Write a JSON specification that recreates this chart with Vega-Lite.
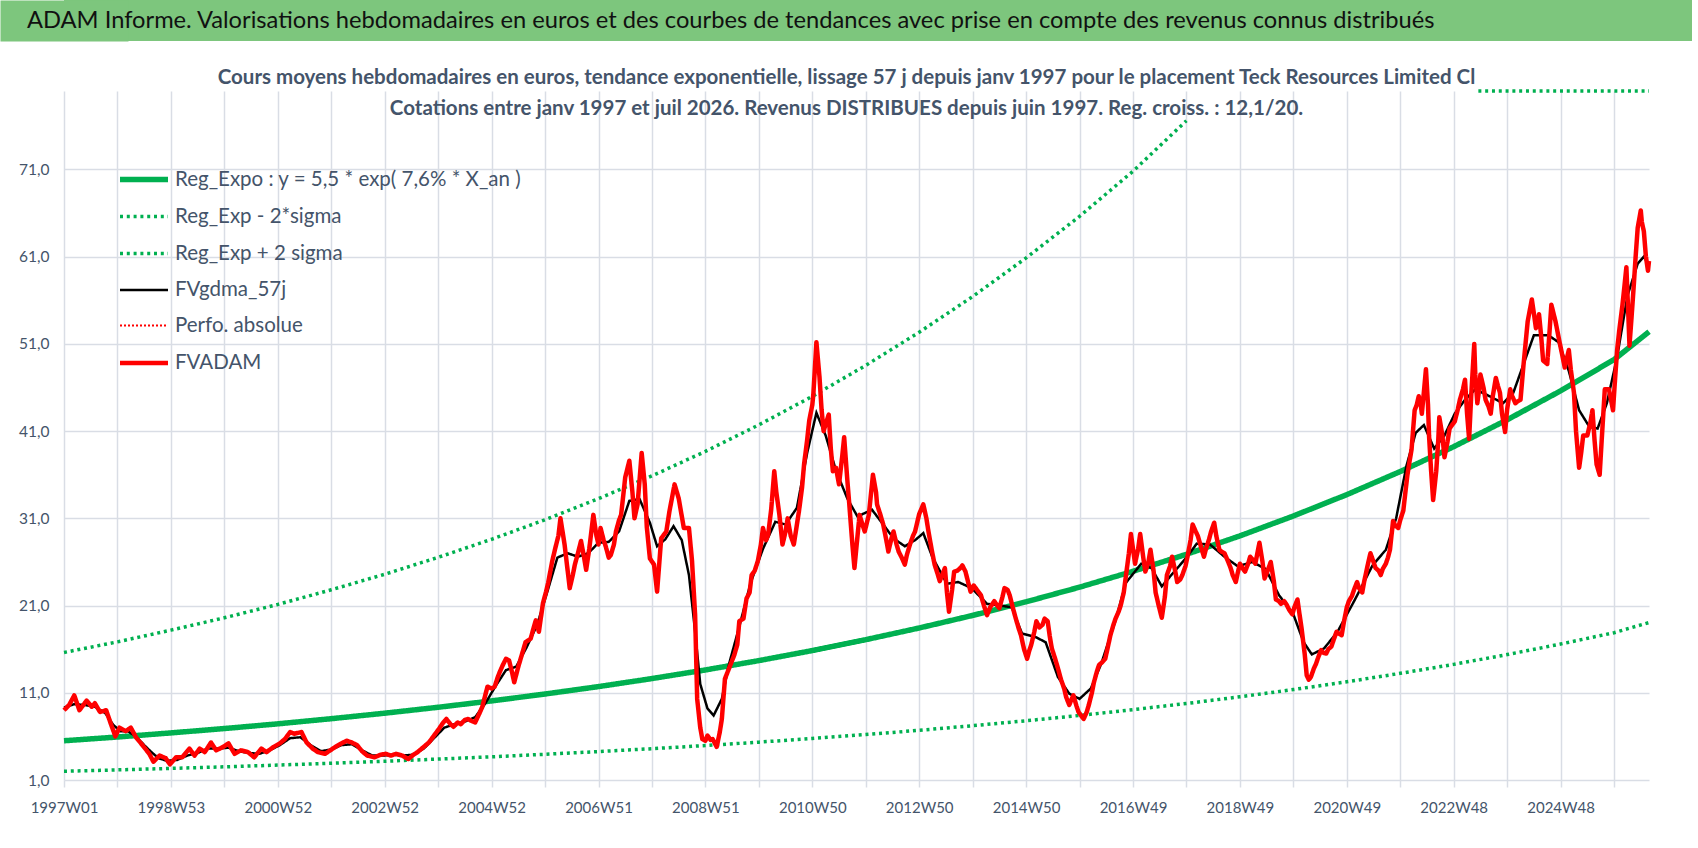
{
  "$schema": "https://vega.github.io/schema/vega-lite/v6.json",
  "background": "white",
  "padding": 0,
  "columns": 1,
  "align": "none",
  "spacing": 26,
  "config": {"view": {"stroke": null}, "font": "Lato"},
  "concat": [
    {
      "width": 1628,
      "height": 41,
      "view": {"fill": "#7dc67d", "stroke": null},
      "title": {"text": "ADAM Informe. Valorisations hebdomadaires en euros et des courbes de tendances avec prise en compte des revenus connus distribués", "anchor": "start", "frame": "group", "offset": -33, "dx": -37, "font": "Lato", "fontSize": 23.7, "fontWeight": "normal", "color": "#111111"},
      "data": {"values": []},
      "mark": {"type": "point", "opacity": 0},
      "encoding": {
        "y": {"field": "a", "type": "quantitative", "scale": {"domain": [0, 1]},
          "axis": {"title": null, "labels": false, "ticks": false, "grid": false, "domain": true, "domainColor": "#7dc67d", "domainWidth": 128, "domainCap": "butt", "minExtent": 64, "maxExtent": 64}}
      }
    },
    {
      "width": 1585,
      "height": 689,
      "title": {
        "text": ["Cours moyens hebdomadaires en euros, tendance exponentielle, lissage 57 j depuis janv 1997 pour le placement Teck Resources Limited Cl", "Cotations entre janv 1997 et juil 2026. Revenus DISTRIBUES depuis juin 1997. Reg. croiss. : 12,1/20."],
        "anchor": "middle", "frame": "group", "offset": -35, "dx": -10,
        "font": "Lato", "fontSize": 20.5, "fontWeight": "bold", "color": "#44546a", "lineHeight": 31
      },
      "data": {"values": [
        {"s":"reg","w":0,"v":5.5},{"s":"reg","w":52,"v":5.93},{"s":"reg","w":104,"v":6.4},{"s":"reg","w":156,"v":6.9},{"s":"reg","w":208,"v":7.44},{"s":"reg","w":260,"v":8.03},{"s":"reg","w":312,"v":8.66},{"s":"reg","w":364,"v":9.34},{"s":"reg","w":416,"v":10.07},{"s":"reg","w":468,"v":10.86},{"s":"reg","w":520,"v":11.71},{"s":"reg","w":572,"v":12.63},{"s":"reg","w":624,"v":13.62},{"s":"reg","w":676,"v":14.69},{"s":"reg","w":728,"v":15.84},{"s":"reg","w":780,"v":17.09},{"s":"reg","w":832,"v":18.43},{"s":"reg","w":884,"v":19.87},{"s":"reg","w":936,"v":21.43},{"s":"reg","w":988,"v":23.11},{"s":"reg","w":1040,"v":24.93},{"s":"reg","w":1092,"v":26.88},{"s":"reg","w":1144,"v":28.99},{"s":"reg","w":1196,"v":31.27},{"s":"reg","w":1248,"v":33.72},{"s":"reg","w":1300,"v":36.37},{"s":"reg","w":1352,"v":39.22},{"s":"reg","w":1404,"v":42.3},{"s":"reg","w":1456,"v":45.62},{"s":"reg","w":1508,"v":49.2},{"s":"reg","w":1542,"v":52.4},
        {"s":"lo","w":0,"v":2.0},{"s":"lo","w":52,"v":2.16},{"s":"lo","w":104,"v":2.33},{"s":"lo","w":156,"v":2.51},{"s":"lo","w":208,"v":2.71},{"s":"lo","w":260,"v":2.92},{"s":"lo","w":312,"v":3.15},{"s":"lo","w":364,"v":3.4},{"s":"lo","w":416,"v":3.66},{"s":"lo","w":468,"v":3.95},{"s":"lo","w":520,"v":4.26},{"s":"lo","w":572,"v":4.59},{"s":"lo","w":624,"v":4.95},{"s":"lo","w":676,"v":5.34},{"s":"lo","w":728,"v":5.76},{"s":"lo","w":780,"v":6.21},{"s":"lo","w":832,"v":6.7},{"s":"lo","w":884,"v":7.23},{"s":"lo","w":936,"v":7.79},{"s":"lo","w":988,"v":8.4},{"s":"lo","w":1040,"v":9.07},{"s":"lo","w":1092,"v":9.77},{"s":"lo","w":1144,"v":10.54},{"s":"lo","w":1196,"v":11.37},{"s":"lo","w":1248,"v":12.26},{"s":"lo","w":1300,"v":13.23},{"s":"lo","w":1352,"v":14.26},{"s":"lo","w":1404,"v":15.38},{"s":"lo","w":1456,"v":16.59},{"s":"lo","w":1508,"v":17.89},{"s":"lo","w":1542,"v":19.05},
        {"s":"up","g":"a","w":0,"v":15.62},{"s":"up","g":"a","w":52,"v":16.84},{"s":"up","g":"a","w":104,"v":18.18},{"s":"up","g":"a","w":156,"v":19.6},{"s":"up","g":"a","w":208,"v":21.13},{"s":"up","g":"a","w":260,"v":22.81},{"s":"up","g":"a","w":312,"v":24.59},{"s":"up","g":"a","w":364,"v":26.53},{"s":"up","g":"a","w":416,"v":28.6},{"s":"up","g":"a","w":468,"v":30.84},{"s":"up","g":"a","w":520,"v":33.26},{"s":"up","g":"a","w":572,"v":35.87},{"s":"up","g":"a","w":624,"v":38.68},{"s":"up","g":"a","w":676,"v":41.72},{"s":"up","g":"a","w":728,"v":44.99},{"s":"up","g":"a","w":780,"v":48.54},{"s":"up","g":"a","w":832,"v":52.34},{"s":"up","g":"a","w":884,"v":56.43},{"s":"up","g":"a","w":936,"v":60.86},{"s":"up","g":"a","w":988,"v":65.63},{"s":"up","g":"a","w":1040,"v":70.8},{"s":"up","g":"a","w":1092,"v":76.6},
        {"s":"up","g":"b","w":1376,"v":116.7},{"s":"up","g":"b","w":1404,"v":120.1},{"s":"up","g":"b","w":1456,"v":129.6},{"s":"up","g":"b","w":1508,"v":139.7},{"s":"up","g":"b","w":1542,"v":148.8},
        {"s":"gdma","w":0,"v":9.3},{"s":"gdma","w":10,"v":9.7},{"s":"gdma","w":20,"v":9.6},{"s":"gdma","w":30,"v":9.4},{"s":"gdma","w":40,"v":8.7},{"s":"gdma","w":48,"v":7.3},{"s":"gdma","w":55,"v":6.6},{"s":"gdma","w":62,"v":6.6},{"s":"gdma","w":70,"v":6.0},{"s":"gdma","w":78,"v":5.0},{"s":"gdma","w":85,"v":4.2},{"s":"gdma","w":92,"v":3.5},{"s":"gdma","w":100,"v":3.2},{"s":"gdma","w":110,"v":3.3},{"s":"gdma","w":120,"v":3.8},{"s":"gdma","w":130,"v":4.1},{"s":"gdma","w":140,"v":4.6},{"s":"gdma","w":150,"v":4.6},{"s":"gdma","w":160,"v":4.7},{"s":"gdma","w":170,"v":4.3},{"s":"gdma","w":180,"v":4.1},{"s":"gdma","w":190,"v":4.0},{"s":"gdma","w":200,"v":4.4},{"s":"gdma","w":210,"v":5.0},{"s":"gdma","w":220,"v":5.8},{"s":"gdma","w":230,"v":5.9},{"s":"gdma","w":240,"v":5.0},{"s":"gdma","w":250,"v":4.3},{"s":"gdma","w":260,"v":4.5},{"s":"gdma","w":270,"v":5.0},{"s":"gdma","w":280,"v":5.1},{"s":"gdma","w":290,"v":4.4},{"s":"gdma","w":300,"v":3.8},{"s":"gdma","w":310,"v":3.8},{"s":"gdma","w":320,"v":3.9},{"s":"gdma","w":330,"v":3.8},{"s":"gdma","w":340,"v":3.9},{"s":"gdma","w":350,"v":4.6},{"s":"gdma","w":360,"v":5.8},{"s":"gdma","w":370,"v":7.0},{"s":"gdma","w":380,"v":7.4},{"s":"gdma","w":390,"v":7.7},{"s":"gdma","w":400,"v":8.2},{"s":"gdma","w":410,"v":9.8},{"s":"gdma","w":420,"v":11.8},{"s":"gdma","w":430,"v":13.6},{"s":"gdma","w":440,"v":14.0},{"s":"gdma","w":450,"v":16.2},{"s":"gdma","w":460,"v":18.7},{"s":"gdma","w":470,"v":22.5},{"s":"gdma","w":480,"v":26.5},{"s":"gdma","w":490,"v":27.0},{"s":"gdma","w":500,"v":26.6},{"s":"gdma","w":510,"v":27.0},{"s":"gdma","w":520,"v":28.2},{"s":"gdma","w":530,"v":28.3},{"s":"gdma","w":540,"v":29.5},{"s":"gdma","w":550,"v":33.0},{"s":"gdma","w":560,"v":33.2},{"s":"gdma","w":570,"v":30.5},{"s":"gdma","w":577,"v":27.8},{"s":"gdma","w":585,"v":28.6},{"s":"gdma","w":593,"v":30.1},{"s":"gdma","w":601,"v":28.5},{"s":"gdma","w":608,"v":24.5},{"s":"gdma","w":614,"v":18.0},{"s":"gdma","w":619,"v":12.0},{"s":"gdma","w":626,"v":9.2},{"s":"gdma","w":632,"v":8.4},{"s":"gdma","w":640,"v":10.3},{"s":"gdma","w":647,"v":14.3},{"s":"gdma","w":657,"v":18.6},{"s":"gdma","w":668,"v":23.6},{"s":"gdma","w":680,"v":27.5},{"s":"gdma","w":692,"v":30.6},{"s":"gdma","w":702,"v":30.3},{"s":"gdma","w":713,"v":32.2},{"s":"gdma","w":723,"v":38.5},{"s":"gdma","w":732,"v":43.1},{"s":"gdma","w":741,"v":40.5},{"s":"gdma","w":751,"v":36.5},{"s":"gdma","w":762,"v":33.3},{"s":"gdma","w":772,"v":31.2},{"s":"gdma","w":786,"v":32.0},{"s":"gdma","w":797,"v":30.3},{"s":"gdma","w":807,"v":28.7},{"s":"gdma","w":818,"v":27.8},{"s":"gdma","w":828,"v":28.5},{"s":"gdma","w":836,"v":29.3},{"s":"gdma","w":845,"v":26.5},{"s":"gdma","w":859,"v":23.5},{"s":"gdma","w":870,"v":23.7},{"s":"gdma","w":883,"v":23.0},{"s":"gdma","w":898,"v":21.2},{"s":"gdma","w":911,"v":21.0},{"s":"gdma","w":922,"v":20.8},{"s":"gdma","w":932,"v":17.8},{"s":"gdma","w":945,"v":17.4},{"s":"gdma","w":955,"v":16.8},{"s":"gdma","w":967,"v":12.8},{"s":"gdma","w":978,"v":10.9},{"s":"gdma","w":988,"v":10.3},{"s":"gdma","w":999,"v":11.5},{"s":"gdma","w":1009,"v":14.3},{"s":"gdma","w":1023,"v":19.3},{"s":"gdma","w":1033,"v":23.6},{"s":"gdma","w":1048,"v":25.8},{"s":"gdma","w":1058,"v":25.3},{"s":"gdma","w":1068,"v":23.2},{"s":"gdma","w":1078,"v":24.6},{"s":"gdma","w":1092,"v":26.5},{"s":"gdma","w":1102,"v":28.1},{"s":"gdma","w":1115,"v":28.0},{"s":"gdma","w":1129,"v":26.6},{"s":"gdma","w":1142,"v":25.5},{"s":"gdma","w":1156,"v":26.0},{"s":"gdma","w":1169,"v":25.2},{"s":"gdma","w":1182,"v":22.2},{"s":"gdma","w":1196,"v":20.0},{"s":"gdma","w":1206,"v":16.8},{"s":"gdma","w":1214,"v":15.4},{"s":"gdma","w":1226,"v":16.1},{"s":"gdma","w":1239,"v":18.0},{"s":"gdma","w":1256,"v":21.7},{"s":"gdma","w":1273,"v":25.6},{"s":"gdma","w":1286,"v":27.4},{"s":"gdma","w":1296,"v":31.0},{"s":"gdma","w":1306,"v":37.0},{"s":"gdma","w":1315,"v":40.8},{"s":"gdma","w":1323,"v":41.7},{"s":"gdma","w":1333,"v":39.0},{"s":"gdma","w":1343,"v":40.5},{"s":"gdma","w":1353,"v":43.0},{"s":"gdma","w":1363,"v":44.6},{"s":"gdma","w":1373,"v":45.8},{"s":"gdma","w":1387,"v":45.0},{"s":"gdma","w":1400,"v":44.2},{"s":"gdma","w":1410,"v":45.4},{"s":"gdma","w":1420,"v":48.7},{"s":"gdma","w":1430,"v":52.0},{"s":"gdma","w":1444,"v":52.0},{"s":"gdma","w":1454,"v":51.2},{"s":"gdma","w":1464,"v":47.9},{"s":"gdma","w":1474,"v":43.4},{"s":"gdma","w":1484,"v":41.5},{"s":"gdma","w":1492,"v":41.3},{"s":"gdma","w":1501,"v":44.2},{"s":"gdma","w":1511,"v":49.5},{"s":"gdma","w":1521,"v":56.5},{"s":"gdma","w":1531,"v":60.2},{"s":"gdma","w":1537,"v":61.0},{"s":"gdma","w":1542,"v":60.0},
        {"s":"adam","w":0,"v":9.0},{"s":"adam","w":5,"v":9.6},{"s":"adam","w":10,"v":10.7},{"s":"adam","w":15,"v":9.0},{"s":"adam","w":22,"v":10.1},{"s":"adam","w":27,"v":9.4},{"s":"adam","w":30,"v":9.8},{"s":"adam","w":35,"v":8.8},{"s":"adam","w":41,"v":9.0},{"s":"adam","w":46,"v":7.3},{"s":"adam","w":50,"v":6.0},{"s":"adam","w":54,"v":7.0},{"s":"adam","w":60,"v":6.6},{"s":"adam","w":65,"v":7.0},{"s":"adam","w":70,"v":5.9},{"s":"adam","w":77,"v":4.9},{"s":"adam","w":83,"v":4.0},{"s":"adam","w":87,"v":3.1},{"s":"adam","w":93,"v":3.8},{"s":"adam","w":99,"v":3.5},{"s":"adam","w":103,"v":2.8},{"s":"adam","w":109,"v":3.6},{"s":"adam","w":115,"v":3.6},{"s":"adam","w":122,"v":4.6},{"s":"adam","w":127,"v":3.8},{"s":"adam","w":132,"v":4.6},{"s":"adam","w":137,"v":4.2},{"s":"adam","w":143,"v":5.3},{"s":"adam","w":148,"v":4.4},{"s":"adam","w":155,"v":4.8},{"s":"adam","w":160,"v":5.2},{"s":"adam","w":166,"v":4.0},{"s":"adam","w":172,"v":4.4},{"s":"adam","w":179,"v":4.2},{"s":"adam","w":185,"v":3.6},{"s":"adam","w":192,"v":4.6},{"s":"adam","w":197,"v":4.2},{"s":"adam","w":204,"v":4.8},{"s":"adam","w":210,"v":5.2},{"s":"adam","w":215,"v":5.7},{"s":"adam","w":220,"v":6.5},{"s":"adam","w":224,"v":6.3},{"s":"adam","w":231,"v":6.5},{"s":"adam","w":236,"v":5.3},{"s":"adam","w":242,"v":4.6},{"s":"adam","w":247,"v":4.2},{"s":"adam","w":254,"v":4.0},{"s":"adam","w":259,"v":4.4},{"s":"adam","w":264,"v":4.8},{"s":"adam","w":270,"v":5.2},{"s":"adam","w":275,"v":5.5},{"s":"adam","w":280,"v":5.3},{"s":"adam","w":285,"v":5.0},{"s":"adam","w":290,"v":4.3},{"s":"adam","w":295,"v":3.8},{"s":"adam","w":302,"v":3.6},{"s":"adam","w":308,"v":3.9},{"s":"adam","w":313,"v":4.0},{"s":"adam","w":318,"v":3.8},{"s":"adam","w":323,"v":4.0},{"s":"adam","w":329,"v":3.8},{"s":"adam","w":335,"v":3.4},{"s":"adam","w":340,"v":3.9},{"s":"adam","w":344,"v":4.2},{"s":"adam","w":350,"v":4.8},{"s":"adam","w":355,"v":5.3},{"s":"adam","w":360,"v":6.1},{"s":"adam","w":365,"v":6.9},{"s":"adam","w":369,"v":7.6},{"s":"adam","w":372,"v":8.0},{"s":"adam","w":376,"v":7.4},{"s":"adam","w":379,"v":7.1},{"s":"adam","w":383,"v":7.6},{"s":"adam","w":386,"v":7.4},{"s":"adam","w":390,"v":7.9},{"s":"adam","w":393,"v":8.0},{"s":"adam","w":396,"v":7.8},{"s":"adam","w":400,"v":7.6},{"s":"adam","w":404,"v":8.6},{"s":"adam","w":407,"v":9.4},{"s":"adam","w":410,"v":10.8},{"s":"adam","w":412,"v":11.7},{"s":"adam","w":416,"v":11.5},{"s":"adam","w":419,"v":11.7},{"s":"adam","w":422,"v":12.8},{"s":"adam","w":424,"v":13.4},{"s":"adam","w":427,"v":14.2},{"s":"adam","w":430,"v":14.9},{"s":"adam","w":433,"v":14.7},{"s":"adam","w":436,"v":13.3},{"s":"adam","w":438,"v":12.2},{"s":"adam","w":442,"v":14.0},{"s":"adam","w":445,"v":15.2},{"s":"adam","w":449,"v":16.8},{"s":"adam","w":454,"v":17.2},{"s":"adam","w":457,"v":18.5},{"s":"adam","w":459,"v":19.3},{"s":"adam","w":462,"v":18.0},{"s":"adam","w":466,"v":21.3},{"s":"adam","w":469,"v":22.6},{"s":"adam","w":471,"v":23.6},{"s":"adam","w":475,"v":26.1},{"s":"adam","w":478,"v":27.6},{"s":"adam","w":481,"v":29.0},{"s":"adam","w":483,"v":31.0},{"s":"adam","w":487,"v":28.0},{"s":"adam","w":490,"v":25.0},{"s":"adam","w":492,"v":23.0},{"s":"adam","w":495,"v":24.5},{"s":"adam","w":497,"v":25.7},{"s":"adam","w":500,"v":27.0},{"s":"adam","w":503,"v":28.4},{"s":"adam","w":506,"v":26.5},{"s":"adam","w":508,"v":25.1},{"s":"adam","w":511,"v":27.5},{"s":"adam","w":515,"v":31.4},{"s":"adam","w":518,"v":29.0},{"s":"adam","w":520,"v":28.0},{"s":"adam","w":522,"v":29.9},{"s":"adam","w":525,"v":28.5},{"s":"adam","w":527,"v":27.8},{"s":"adam","w":530,"v":26.5},{"s":"adam","w":532,"v":26.8},{"s":"adam","w":535,"v":28.0},{"s":"adam","w":537,"v":29.5},{"s":"adam","w":540,"v":30.8},{"s":"adam","w":542,"v":31.4},{"s":"adam","w":546,"v":35.7},{"s":"adam","w":550,"v":37.6},{"s":"adam","w":553,"v":34.0},{"s":"adam","w":555,"v":31.0},{"s":"adam","w":558,"v":32.6},{"s":"adam","w":560,"v":35.5},{"s":"adam","w":562,"v":38.5},{"s":"adam","w":565,"v":34.9},{"s":"adam","w":567,"v":30.0},{"s":"adam","w":570,"v":26.4},{"s":"adam","w":574,"v":25.7},{"s":"adam","w":577,"v":22.6},{"s":"adam","w":581,"v":28.7},{"s":"adam","w":586,"v":29.5},{"s":"adam","w":589,"v":31.8},{"s":"adam","w":594,"v":34.9},{"s":"adam","w":598,"v":33.3},{"s":"adam","w":603,"v":29.9},{"s":"adam","w":608,"v":29.9},{"s":"adam","w":611,"v":26.1},{"s":"adam","w":614,"v":19.9},{"s":"adam","w":616,"v":10.3},{"s":"adam","w":619,"v":7.0},{"s":"adam","w":621,"v":5.7},{"s":"adam","w":624,"v":5.5},{"s":"adam","w":626,"v":6.1},{"s":"adam","w":629,"v":5.6},{"s":"adam","w":631,"v":5.7},{"s":"adam","w":635,"v":4.8},{"s":"adam","w":638,"v":6.5},{"s":"adam","w":640,"v":8.0},{"s":"adam","w":643,"v":12.6},{"s":"adam","w":647,"v":13.8},{"s":"adam","w":652,"v":15.3},{"s":"adam","w":655,"v":16.5},{"s":"adam","w":657,"v":19.2},{"s":"adam","w":661,"v":19.5},{"s":"adam","w":664,"v":21.8},{"s":"adam","w":667,"v":22.5},{"s":"adam","w":669,"v":24.5},{"s":"adam","w":672,"v":25.0},{"s":"adam","w":675,"v":26.1},{"s":"adam","w":678,"v":28.0},{"s":"adam","w":680,"v":29.9},{"s":"adam","w":683,"v":28.5},{"s":"adam","w":685,"v":29.1},{"s":"adam","w":688,"v":32.0},{"s":"adam","w":691,"v":36.4},{"s":"adam","w":693,"v":34.0},{"s":"adam","w":696,"v":31.4},{"s":"adam","w":699,"v":28.0},{"s":"adam","w":702,"v":29.5},{"s":"adam","w":704,"v":31.0},{"s":"adam","w":707,"v":29.0},{"s":"adam","w":710,"v":28.0},{"s":"adam","w":712,"v":29.5},{"s":"adam","w":715,"v":31.8},{"s":"adam","w":718,"v":34.5},{"s":"adam","w":720,"v":37.2},{"s":"adam","w":723,"v":40.0},{"s":"adam","w":725,"v":42.2},{"s":"adam","w":728,"v":44.0},{"s":"adam","w":729,"v":45.2},{"s":"adam","w":732,"v":51.2},{"s":"adam","w":735,"v":47.2},{"s":"adam","w":737,"v":43.5},{"s":"adam","w":739,"v":41.0},{"s":"adam","w":741,"v":41.8},{"s":"adam","w":744,"v":42.9},{"s":"adam","w":746,"v":39.0},{"s":"adam","w":748,"v":36.4},{"s":"adam","w":751,"v":36.8},{"s":"adam","w":754,"v":34.9},{"s":"adam","w":757,"v":38.0},{"s":"adam","w":759,"v":40.3},{"s":"adam","w":762,"v":35.5},{"s":"adam","w":764,"v":32.6},{"s":"adam","w":767,"v":28.0},{"s":"adam","w":769,"v":25.3},{"s":"adam","w":772,"v":29.0},{"s":"adam","w":774,"v":31.4},{"s":"adam","w":777,"v":30.2},{"s":"adam","w":779,"v":29.5},{"s":"adam","w":783,"v":31.4},{"s":"adam","w":787,"v":36.0},{"s":"adam","w":790,"v":34.0},{"s":"adam","w":791,"v":32.6},{"s":"adam","w":794,"v":31.5},{"s":"adam","w":797,"v":30.3},{"s":"adam","w":800,"v":28.5},{"s":"adam","w":802,"v":27.2},{"s":"adam","w":805,"v":28.7},{"s":"adam","w":807,"v":29.5},{"s":"adam","w":810,"v":28.0},{"s":"adam","w":812,"v":27.2},{"s":"adam","w":815,"v":26.5},{"s":"adam","w":818,"v":25.7},{"s":"adam","w":820,"v":26.8},{"s":"adam","w":823,"v":28.0},{"s":"adam","w":826,"v":29.0},{"s":"adam","w":828,"v":29.5},{"s":"adam","w":832,"v":31.5},{"s":"adam","w":836,"v":32.6},{"s":"adam","w":839,"v":31.0},{"s":"adam","w":841,"v":29.5},{"s":"adam","w":844,"v":27.5},{"s":"adam","w":847,"v":25.7},{"s":"adam","w":850,"v":24.6},{"s":"adam","w":852,"v":23.8},{"s":"adam","w":857,"v":25.3},{"s":"adam","w":859,"v":22.5},{"s":"adam","w":861,"v":20.3},{"s":"adam","w":864,"v":22.8},{"s":"adam","w":866,"v":24.9},{"s":"adam","w":869,"v":25.0},{"s":"adam","w":872,"v":25.3},{"s":"adam","w":874,"v":25.6},{"s":"adam","w":877,"v":24.9},{"s":"adam","w":880,"v":23.5},{"s":"adam","w":882,"v":22.6},{"s":"adam","w":885,"v":23.3},{"s":"adam","w":887,"v":23.0},{"s":"adam","w":890,"v":22.5},{"s":"adam","w":892,"v":22.2},{"s":"adam","w":895,"v":21.0},{"s":"adam","w":898,"v":19.9},{"s":"adam","w":901,"v":20.8},{"s":"adam","w":905,"v":21.5},{"s":"adam","w":908,"v":21.0},{"s":"adam","w":910,"v":20.7},{"s":"adam","w":913,"v":22.0},{"s":"adam","w":915,"v":23.0},{"s":"adam","w":918,"v":22.8},{"s":"adam","w":920,"v":22.2},{"s":"adam","w":923,"v":20.8},{"s":"adam","w":926,"v":19.5},{"s":"adam","w":929,"v":18.3},{"s":"adam","w":931,"v":17.6},{"s":"adam","w":934,"v":16.0},{"s":"adam","w":937,"v":14.9},{"s":"adam","w":939,"v":15.8},{"s":"adam","w":941,"v":16.5},{"s":"adam","w":944,"v":18.0},{"s":"adam","w":946,"v":19.2},{"s":"adam","w":949,"v":18.5},{"s":"adam","w":952,"v":18.8},{"s":"adam","w":954,"v":19.5},{"s":"adam","w":957,"v":19.2},{"s":"adam","w":959,"v":17.5},{"s":"adam","w":961,"v":16.1},{"s":"adam","w":964,"v":15.0},{"s":"adam","w":967,"v":13.8},{"s":"adam","w":970,"v":12.5},{"s":"adam","w":973,"v":11.5},{"s":"adam","w":975,"v":10.5},{"s":"adam","w":978,"v":9.6},{"s":"adam","w":980,"v":10.2},{"s":"adam","w":982,"v":10.7},{"s":"adam","w":985,"v":9.5},{"s":"adam","w":987,"v":8.8},{"s":"adam","w":990,"v":8.3},{"s":"adam","w":992,"v":8.0},{"s":"adam","w":995,"v":8.8},{"s":"adam","w":997,"v":9.6},{"s":"adam","w":1000,"v":11.0},{"s":"adam","w":1002,"v":12.2},{"s":"adam","w":1005,"v":13.5},{"s":"adam","w":1007,"v":14.2},{"s":"adam","w":1010,"v":14.5},{"s":"adam","w":1013,"v":14.9},{"s":"adam","w":1016,"v":16.5},{"s":"adam","w":1018,"v":17.6},{"s":"adam","w":1021,"v":18.8},{"s":"adam","w":1023,"v":19.5},{"s":"adam","w":1026,"v":20.3},{"s":"adam","w":1028,"v":21.0},{"s":"adam","w":1031,"v":22.5},{"s":"adam","w":1033,"v":24.3},{"s":"adam","w":1036,"v":27.0},{"s":"adam","w":1038,"v":29.2},{"s":"adam","w":1040,"v":27.5},{"s":"adam","w":1042,"v":25.8},{"s":"adam","w":1045,"v":27.5},{"s":"adam","w":1047,"v":29.2},{"s":"adam","w":1050,"v":26.5},{"s":"adam","w":1052,"v":24.9},{"s":"adam","w":1055,"v":26.0},{"s":"adam","w":1057,"v":27.4},{"s":"adam","w":1060,"v":25.0},{"s":"adam","w":1062,"v":22.5},{"s":"adam","w":1065,"v":21.0},{"s":"adam","w":1068,"v":19.6},{"s":"adam","w":1071,"v":22.0},{"s":"adam","w":1073,"v":24.5},{"s":"adam","w":1076,"v":25.5},{"s":"adam","w":1078,"v":26.6},{"s":"adam","w":1081,"v":25.0},{"s":"adam","w":1083,"v":23.7},{"s":"adam","w":1086,"v":24.0},{"s":"adam","w":1088,"v":24.5},{"s":"adam","w":1091,"v":25.5},{"s":"adam","w":1093,"v":26.6},{"s":"adam","w":1096,"v":28.5},{"s":"adam","w":1098,"v":30.3},{"s":"adam","w":1101,"v":29.5},{"s":"adam","w":1103,"v":29.0},{"s":"adam","w":1106,"v":27.8},{"s":"adam","w":1109,"v":26.6},{"s":"adam","w":1111,"v":27.5},{"s":"adam","w":1114,"v":28.6},{"s":"adam","w":1116,"v":29.5},{"s":"adam","w":1119,"v":30.5},{"s":"adam","w":1121,"v":29.0},{"s":"adam","w":1124,"v":27.4},{"s":"adam","w":1126,"v":27.2},{"s":"adam","w":1129,"v":27.0},{"s":"adam","w":1132,"v":26.2},{"s":"adam","w":1135,"v":25.3},{"s":"adam","w":1137,"v":24.5},{"s":"adam","w":1140,"v":23.7},{"s":"adam","w":1142,"v":24.8},{"s":"adam","w":1144,"v":25.8},{"s":"adam","w":1147,"v":25.2},{"s":"adam","w":1149,"v":24.9},{"s":"adam","w":1152,"v":25.8},{"s":"adam","w":1154,"v":26.6},{"s":"adam","w":1157,"v":26.2},{"s":"adam","w":1159,"v":25.8},{"s":"adam","w":1161,"v":27.0},{"s":"adam","w":1163,"v":28.2},{"s":"adam","w":1166,"v":26.0},{"s":"adam","w":1168,"v":24.1},{"s":"adam","w":1171,"v":25.0},{"s":"adam","w":1174,"v":26.0},{"s":"adam","w":1177,"v":23.8},{"s":"adam","w":1179,"v":21.7},{"s":"adam","w":1182,"v":21.5},{"s":"adam","w":1184,"v":21.2},{"s":"adam","w":1187,"v":21.5},{"s":"adam","w":1189,"v":21.2},{"s":"adam","w":1192,"v":20.5},{"s":"adam","w":1195,"v":20.0},{"s":"adam","w":1197,"v":20.8},{"s":"adam","w":1200,"v":21.7},{"s":"adam","w":1202,"v":20.0},{"s":"adam","w":1204,"v":18.4},{"s":"adam","w":1207,"v":15.5},{"s":"adam","w":1209,"v":13.0},{"s":"adam","w":1211,"v":12.5},{"s":"adam","w":1213,"v":12.8},{"s":"adam","w":1216,"v":13.8},{"s":"adam","w":1218,"v":14.3},{"s":"adam","w":1220,"v":15.0},{"s":"adam","w":1223,"v":15.9},{"s":"adam","w":1225,"v":15.6},{"s":"adam","w":1228,"v":15.5},{"s":"adam","w":1230,"v":16.0},{"s":"adam","w":1233,"v":16.3},{"s":"adam","w":1235,"v":17.0},{"s":"adam","w":1238,"v":18.0},{"s":"adam","w":1240,"v":17.8},{"s":"adam","w":1243,"v":17.6},{"s":"adam","w":1245,"v":19.0},{"s":"adam","w":1248,"v":20.8},{"s":"adam","w":1250,"v":21.5},{"s":"adam","w":1253,"v":22.1},{"s":"adam","w":1255,"v":22.8},{"s":"adam","w":1258,"v":23.7},{"s":"adam","w":1260,"v":23.0},{"s":"adam","w":1263,"v":22.5},{"s":"adam","w":1265,"v":23.8},{"s":"adam","w":1267,"v":24.9},{"s":"adam","w":1269,"v":26.0},{"s":"adam","w":1271,"v":27.0},{"s":"adam","w":1274,"v":26.0},{"s":"adam","w":1276,"v":25.3},{"s":"adam","w":1279,"v":25.0},{"s":"adam","w":1281,"v":24.5},{"s":"adam","w":1283,"v":25.2},{"s":"adam","w":1286,"v":25.8},{"s":"adam","w":1288,"v":26.5},{"s":"adam","w":1290,"v":27.4},{"s":"adam","w":1293,"v":30.7},{"s":"adam","w":1295,"v":30.2},{"s":"adam","w":1298,"v":29.9},{"s":"adam","w":1300,"v":30.8},{"s":"adam","w":1303,"v":31.9},{"s":"adam","w":1305,"v":34.0},{"s":"adam","w":1307,"v":36.0},{"s":"adam","w":1309,"v":37.5},{"s":"adam","w":1311,"v":38.9},{"s":"adam","w":1314,"v":43.4},{"s":"adam","w":1316,"v":44.0},{"s":"adam","w":1318,"v":45.0},{"s":"adam","w":1320,"v":44.0},{"s":"adam","w":1321,"v":43.0},{"s":"adam","w":1323,"v":45.5},{"s":"adam","w":1325,"v":48.1},{"s":"adam","w":1327,"v":44.0},{"s":"adam","w":1328,"v":40.5},{"s":"adam","w":1330,"v":36.5},{"s":"adam","w":1332,"v":33.1},{"s":"adam","w":1335,"v":36.4},{"s":"adam","w":1337,"v":40.0},{"s":"adam","w":1338,"v":42.6},{"s":"adam","w":1341,"v":40.5},{"s":"adam","w":1343,"v":38.0},{"s":"adam","w":1346,"v":39.8},{"s":"adam","w":1348,"v":41.3},{"s":"adam","w":1351,"v":41.8},{"s":"adam","w":1353,"v":42.1},{"s":"adam","w":1356,"v":43.5},{"s":"adam","w":1358,"v":44.6},{"s":"adam","w":1361,"v":45.8},{"s":"adam","w":1363,"v":46.9},{"s":"adam","w":1365,"v":43.0},{"s":"adam","w":1367,"v":40.1},{"s":"adam","w":1369,"v":45.0},{"s":"adam","w":1372,"v":51.0},{"s":"adam","w":1373,"v":47.5},{"s":"adam","w":1375,"v":44.2},{"s":"adam","w":1377,"v":46.0},{"s":"adam","w":1378,"v":47.5},{"s":"adam","w":1381,"v":46.0},{"s":"adam","w":1383,"v":44.6},{"s":"adam","w":1386,"v":43.8},{"s":"adam","w":1388,"v":43.0},{"s":"adam","w":1390,"v":45.0},{"s":"adam","w":1393,"v":47.1},{"s":"adam","w":1395,"v":46.2},{"s":"adam","w":1397,"v":45.4},{"s":"adam","w":1399,"v":43.0},{"s":"adam","w":1402,"v":40.9},{"s":"adam","w":1404,"v":43.5},{"s":"adam","w":1407,"v":45.8},{"s":"adam","w":1409,"v":45.0},{"s":"adam","w":1412,"v":44.2},{"s":"adam","w":1414,"v":44.4},{"s":"adam","w":1417,"v":44.6},{"s":"adam","w":1420,"v":48.7},{"s":"adam","w":1424,"v":53.6},{"s":"adam","w":1428,"v":56.1},{"s":"adam","w":1430,"v":54.5},{"s":"adam","w":1432,"v":52.8},{"s":"adam","w":1434,"v":53.6},{"s":"adam","w":1435,"v":54.4},{"s":"adam","w":1437,"v":52.0},{"s":"adam","w":1439,"v":49.1},{"s":"adam","w":1443,"v":48.7},{"s":"adam","w":1445,"v":52.0},{"s":"adam","w":1447,"v":55.5},{"s":"adam","w":1451,"v":53.6},{"s":"adam","w":1455,"v":51.2},{"s":"adam","w":1458,"v":49.5},{"s":"adam","w":1460,"v":48.3},{"s":"adam","w":1464,"v":50.3},{"s":"adam","w":1466,"v":48.0},{"s":"adam","w":1469,"v":45.4},{"s":"adam","w":1471,"v":41.0},{"s":"adam","w":1474,"v":36.8},{"s":"adam","w":1476,"v":38.5},{"s":"adam","w":1478,"v":40.5},{"s":"adam","w":1482,"v":40.5},{"s":"adam","w":1485,"v":42.0},{"s":"adam","w":1487,"v":43.4},{"s":"adam","w":1489,"v":40.0},{"s":"adam","w":1491,"v":37.2},{"s":"adam","w":1494,"v":36.0},{"s":"adam","w":1496,"v":40.0},{"s":"adam","w":1499,"v":45.8},{"s":"adam","w":1503,"v":45.8},{"s":"adam","w":1507,"v":43.4},{"s":"adam","w":1509,"v":47.0},{"s":"adam","w":1511,"v":50.3},{"s":"adam","w":1513,"v":52.5},{"s":"adam","w":1516,"v":55.3},{"s":"adam","w":1518,"v":57.5},{"s":"adam","w":1520,"v":59.8},{"s":"adam","w":1522,"v":54.0},{"s":"adam","w":1523,"v":50.8},{"s":"adam","w":1525,"v":54.0},{"s":"adam","w":1527,"v":57.4},{"s":"adam","w":1529,"v":61.0},{"s":"adam","w":1531,"v":64.3},{"s":"adam","w":1534,"v":66.3},{"s":"adam","w":1535,"v":65.0},{"s":"adam","w":1537,"v":63.9},{"s":"adam","w":1539,"v":61.0},{"s":"adam","w":1541,"v":59.4},{"s":"adam","w":1542,"v":60.5}
      ]},
      "encoding": {
        "x": {
          "field": "w", "type": "quantitative",
          "scale": {"domain": [0, 1542], "nice": false, "zero": false},
          "axis": {
            "title": null,
            "values": [0, 52, 104, 156, 208, 260, 312, 364, 416, 468, 520, 572, 624, 676, 728, 780, 832, 884, 936, 988, 1040, 1092, 1144, 1196, 1248, 1300, 1352, 1404, 1456, 1508],
            "labelExpr": "datum.value % 104 == 0 ? ['1997W01','1998W53','2000W52','2002W52','2004W52','2006W51','2008W51','2010W50','2012W50','2014W50','2016W49','2018W49','2020W49','2022W48','2024W48'][datum.value / 104] : ''",
            "grid": true, "gridColor": "#d9dde5", "gridWidth": 1.5,
            "domain": false, "ticks": true, "tickColor": "#d9dde5", "tickWidth": 1.5, "tickSize": 7,
            "labelFont": "Lato", "labelFontSize": 15, "labelColor": "#44546a", "labelPadding": 13, "labelFlush": false
          }
        },
        "y": {
          "field": "v", "type": "quantitative",
          "scale": {"domain": [1, 80], "nice": false, "zero": false, "clamp": true},
          "axis": {
            "title": null,
            "values": [1, 11, 21, 31, 41, 51, 61, 71],
            "labelExpr": "replace(format(datum.value, '.1f'), '.', ',')",
            "grid": true, "gridColor": "#d9dde5", "gridWidth": 1.5,
            "domain": false, "ticks": false, "tickSize": 0,
            "labelFont": "Lato", "labelFontSize": 15.5, "labelColor": "#44546a", "labelPadding": 15,
            "minExtent": 64, "maxExtent": 64
          }
        },
        "color": {
          "field": "s", "type": "nominal",
          "scale": {"domain": ["reg", "lo", "up", "gdma", "perf", "adam"], "range": ["#00b050", "#00b050", "#00b050", "#000000", "#ff0000", "#ff0000"]},
          "legend": {
            "title": null, "orient": "none", "legendX": 53, "legendY": 152.5,
            "symbolType": "stroke", "symbolSize": 2304, "rowPadding": -14.8, "labelOffset": 4, "padding": 0,
            "labelFont": "Lato", "labelFontSize": 20.5, "labelColor": "#44546a", "labelLimit": 0,
            "labelExpr": "datum.label == 'reg' ? 'Reg_Expo : y = 5,5 * exp( 7,6% *  X_an )' : datum.label == 'lo' ? 'Reg_Exp - 2*sigma' : datum.label == 'up' ? 'Reg_Exp + 2 sigma' : datum.label == 'gdma' ? 'FVgdma_57j' : datum.label == 'perf' ? 'Perfo. absolue' : 'FVADAM'"
          }
        },
        "strokeDash": {
          "field": "s", "type": "nominal",
          "scale": {"domain": ["reg", "lo", "up", "gdma", "perf", "adam"], "range": [[1, 0], [3, 3.8], [3, 3.8], [1, 0], [2, 2], [1, 0]]},
          "legend": {
            "title": null, "orient": "none", "legendX": 53, "legendY": 152.5,
            "symbolType": "stroke", "symbolSize": 2304, "rowPadding": -14.8, "labelOffset": 4, "padding": 0,
            "labelFont": "Lato", "labelFontSize": 20.5, "labelColor": "#44546a", "labelLimit": 0,
            "labelExpr": "datum.label == 'reg' ? 'Reg_Expo : y = 5,5 * exp( 7,6% *  X_an )' : datum.label == 'lo' ? 'Reg_Exp - 2*sigma' : datum.label == 'up' ? 'Reg_Exp + 2 sigma' : datum.label == 'gdma' ? 'FVgdma_57j' : datum.label == 'perf' ? 'Perfo. absolue' : 'FVADAM'"
          }
        },
        "strokeWidth": {
          "field": "s", "type": "nominal",
          "scale": {"type": "ordinal", "domain": ["reg", "lo", "up", "gdma", "perf", "adam"], "range": [5.5, 3.5, 3.5, 2.5, 2, 4.5]},
          "legend": {
            "title": null, "orient": "none", "legendX": 53, "legendY": 152.5,
            "symbolType": "stroke", "symbolSize": 2304, "rowPadding": -14.8, "labelOffset": 4, "padding": 0,
            "labelFont": "Lato", "labelFontSize": 20.5, "labelColor": "#44546a", "labelLimit": 0,
            "labelExpr": "datum.label == 'reg' ? 'Reg_Expo : y = 5,5 * exp( 7,6% *  X_an )' : datum.label == 'lo' ? 'Reg_Exp - 2*sigma' : datum.label == 'up' ? 'Reg_Exp + 2 sigma' : datum.label == 'gdma' ? 'FVgdma_57j' : datum.label == 'perf' ? 'Perfo. absolue' : 'FVADAM'"
          }
        }
      },
      "layer": [
        {"transform": [{"filter": "datum.s == 'reg'"}], "mark": {"type": "line"}},
        {"transform": [{"filter": "datum.s == 'lo'"}], "mark": {"type": "line"}},
        {"transform": [{"filter": "datum.s == 'up'"}], "mark": {"type": "line"}, "encoding": {"detail": {"field": "g", "type": "nominal"}}},
        {"transform": [{"filter": "datum.s == 'gdma'"}], "mark": {"type": "line"}},
        {"transform": [{"filter": "datum.s == 'adam'"}], "mark": {"type": "line", "strokeJoin": "round"}}
      ]
    }
  ]
}
